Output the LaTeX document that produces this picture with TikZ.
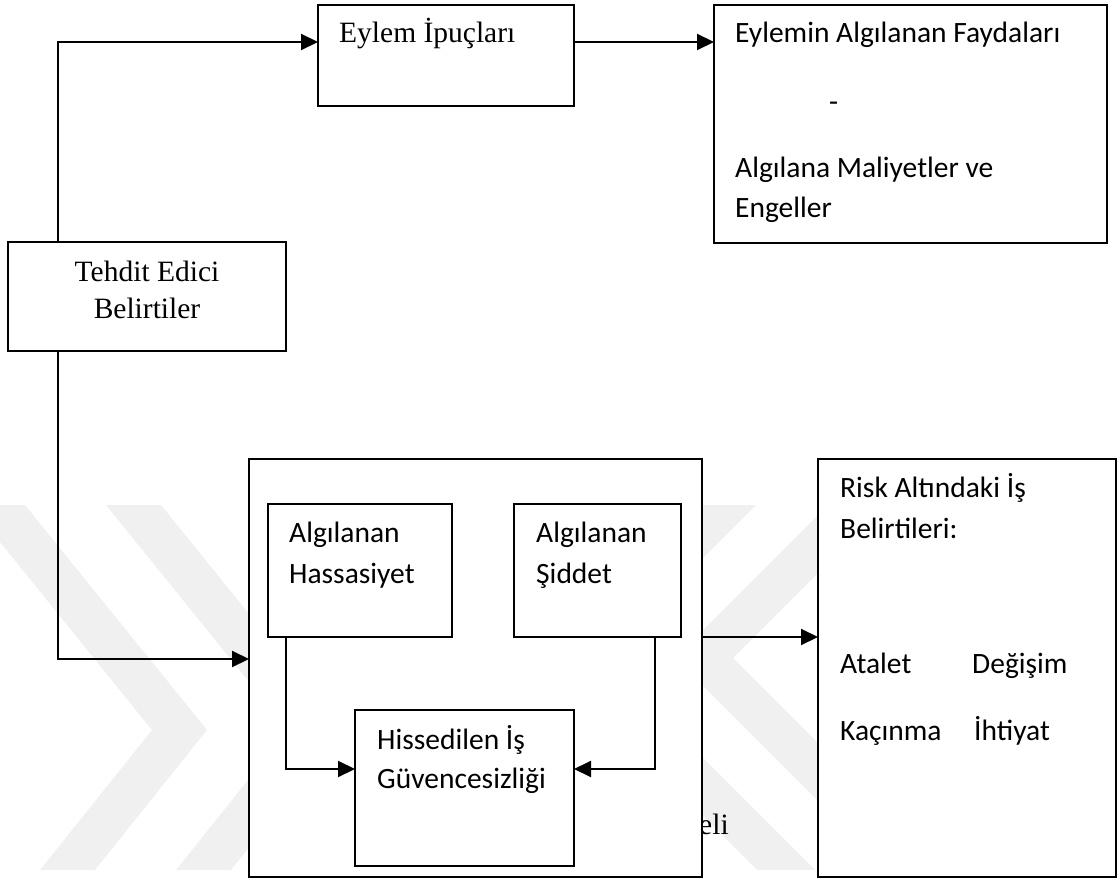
\documentclass[tikz,border=0pt]{standalone}
\usepackage{fontspec}
\setmainfont{Liberation Serif}
\newfontfamily\calfont{Carlito}
\usetikzlibrary{arrows.meta}
\begin{document}
\begin{tikzpicture}[x=1pt,y=-1pt,
  box/.style={draw, line width=2.1pt, fill=white, inner sep=0pt, outer sep=0pt, anchor=north west},
  serif/.style={font=\fontsize{29.5}{36}\selectfont, inner sep=0pt, anchor=base west},
  sans/.style={font=\calfont\fontsize{29.5}{36}\selectfont, inner sep=0pt, anchor=base west},
  arr/.style={line width=2.1pt, -{Triangle[length=17pt,width=16pt]}},
  wm/.style={fill=black!6, draw=none}]
\useasboundingbox (0,0) rectangle (1117,880);

% faint background emblem
\begin{scope}
  \clip (0,0) rectangle (1117,880);
  \foreach \d in {0,136}{
    \fill[wm] (-30+\d,505) -- (25+\d,505) -- (207+\d,730) -- (95+\d,870)
              -- (40+\d,870) -- (152+\d,730) -- cycle;
  }
  \foreach \a in {603,733}{
    \fill[wm] (\a-58+153,505) -- (\a+153,505) -- (\a,658) -- (\a+212,870)
              -- (\a-58+212,870) -- (\a-58,658) -- cycle;
  }
\end{scope}

% caption fragment partly hidden behind the central frame
\node[serif] (cap) at (699,834) {eli};

% boxes
\node[box, minimum width=256pt, minimum height=101pt] (E) at (318,5) {};
\node[box, minimum width=393pt, minimum height=238pt] (F) at (714,5) {};
\node[box, minimum width=278pt, minimum height=109pt] (T) at (8,242) {};
\node[box, minimum width=453pt, minimum height=418pt] (O) at (249,459) {};
\node[box, minimum width=184pt, minimum height=133pt] (H) at (268,504) {};
\node[box, minimum width=167pt, minimum height=133pt] (S) at (514,504) {};
\node[box, minimum width=219pt, minimum height=156pt] (G) at (355,710) {};
\node[box, minimum width=298pt, minimum height=418pt] (R) at (818,459) {};

% texts
\node[serif] (e1) at (339,43) {Eylem İpuçları};
\node[sans] (f1) at (735,43) {Eylemin Algılanan Faydaları};
\node[sans] (f2) at (829,112) {-};
\node[sans] (f3) at (735,178) {Algılana Maliyetler ve};
\node[sans] (f4) at (735,218) {Engeller};
\node[serif, anchor=base] (t1) at (147,281) {Tehdit Edici};
\node[serif, anchor=base] (t2) at (147,318) {Belirtiler};
\node[sans] (h1) at (289,542) {Algılanan};
\node[sans] (h2) at (289,583) {Hassasiyet};
\node[sans] (s1) at (536,542) {Algılanan};
\node[sans] (s2) at (536,583) {Şiddet};
\node[sans] (g1) at (377,749) {Hissedilen İş};
\node[sans] (g2) at (377,788) {Güvencesizliği};
\node[sans] (r1) at (840,497) {Risk Altındaki İş};
\node[sans] (r2) at (840,538) {Belirtileri:};
\node[sans] (r3) at (840,673) {Atalet};
\node[sans] (r4) at (972,673) {Değişim};
\node[sans] (r5) at (840,740) {Kaçınma};
\node[sans] (r6) at (974,740) {İhtiyat};

% connectors
\draw[arr] ([xshift=50pt]T.north west) |- ([yshift=13.5pt]E.west);
\draw[arr] ([yshift=13.5pt]E.east) -- ([yshift=13.5pt]E.east -| F.west);
\draw[arr] ([xshift=50pt]T.south west) |- ([yshift=9pt]O.west);
\draw[arr] ([yshift=31pt]O.east) -- ([yshift=31pt]O.east -| R.west);
\draw[arr] ([xshift=18pt]H.south west) |- ([yshift=19pt]G.west);
\draw[arr] ([xshift=141pt]S.south west) |- ([yshift=19pt]G.east);
\end{tikzpicture}
\end{document}
